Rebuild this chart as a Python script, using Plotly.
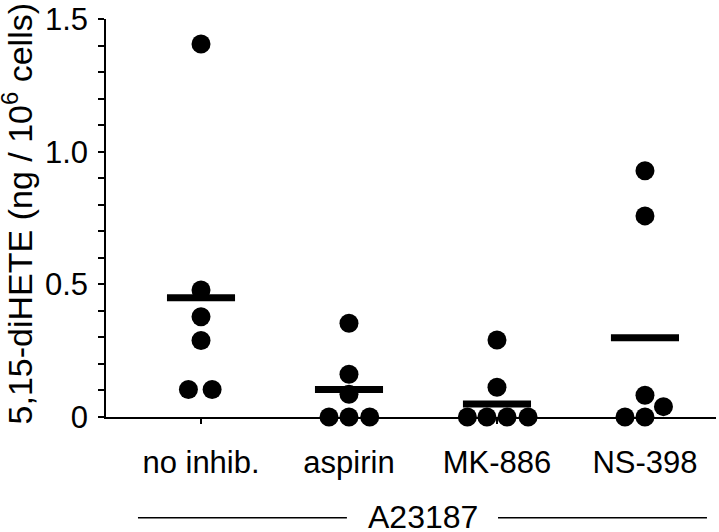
import plotly.graph_objects as go

# ---- data ----
categories = ["no inhib.", "aspirin", "MK-886", "NS-398"]
no_inhib = [1.406, 0.479, 0.378, 0.288, 0.104, 0.104]
aspirin = [0.353, 0.161, 0.086, 0.0, 0.0, 0.0]
mk886 = [0.29, 0.112, 0.0, 0.0, 0.0, 0.0]
ns398 = [0.928, 0.758, 0.082, 0.039, 0.0, 0.0]
means = [0.449, 0.104, 0.049, 0.299]
group_label = "A23187"
y_tickvals = [0, 0.5, 1.0, 1.5]
y_ticktext = ["0", "0.5", "1.0", "1.5"]

# horizontal spread of overlapping points (category units)
jitter = [
    [0, 0, 0, 0, -0.085, 0.075],
    [0, 0, 0, -0.135, 0, 0.14],
    [0, 0, -0.2, -0.068, 0.068, 0.21],
    [0, 0, 0, 0.125, -0.135, 0],
]
series = [no_inhib, aspirin, mk886, ns398]

FONT = "Liberation Sans, Arial, Helvetica, sans-serif"
fig = go.Figure()

for i, (vals, jit) in enumerate(zip(series, jitter)):
    fig.add_trace(go.Scatter(
        x=[i + j for j in jit], y=vals, mode="markers",
        marker=dict(size=19, color="black", line=dict(width=0)),
        cliponaxis=False, showlegend=False, hoverinfo="y"))

mean_half = 0.23
for i, m in enumerate(means):
    fig.add_trace(go.Scatter(
        x=[i - mean_half, i + mean_half], y=[m, m], mode="lines",
        line=dict(color="black", width=7), cliponaxis=False,
        showlegend=False, hoverinfo="y"))

fig.update_layout(
    width=719, height=532,
    margin=dict(l=106, r=3, t=19, b=115),
    paper_bgcolor="white", plot_bgcolor="white",
    font=dict(family=FONT, color="black"),
    xaxis=dict(
        range=[-0.642, 3.48], tickvals=list(range(len(categories))),
        ticktext=categories, ticks="outside", ticklen=5, tickwidth=1.5,
        tickcolor="black", showline=True, linecolor="black", linewidth=1.5,
        showgrid=False, zeroline=False, tickfont=dict(size=31, family=FONT),
        ticklabelstandoff=12, automargin=False,
    ),
    yaxis=dict(
        range=[0, 1.5], tickvals=y_tickvals, ticktext=y_ticktext,
        ticks="outside", ticklen=6, tickwidth=1.5, tickcolor="black",
        minor=dict(dtick=0.1, ticks="outside", ticklen=6, tickwidth=1.5,
                   tickcolor="black", showgrid=False),
        showline=True, linecolor="black", linewidth=1.5,
        showgrid=False, zeroline=False, tickfont=dict(size=31, family=FONT),
        ticklabelstandoff=4, automargin=False,
    ),
)

# y-axis title
fig.add_annotation(
    text="5,15-diHETE (ng / 10<sup>6</sup> cells)", textangle=-90,
    xref="paper", yref="paper", x=0, y=0.509, xshift=-89,
    xanchor="center", yanchor="middle", showarrow=False,
    font=dict(size=34, family=FONT, color="black"))

# group label with bracket lines
n = len(categories)
mid = (n - 1) / 2
fig.add_annotation(
    text=group_label, xref="x", yref="paper", x=mid, y=-0.25,
    xanchor="center", yanchor="middle", showarrow=False,
    font=dict(size=32, family=FONT, color="black"))
for x0, x1 in [(-0.426, mid - 0.514), (mid + 0.507, n - 1 + 0.419)]:
    fig.add_shape(type="line", xref="x", yref="paper", x0=x0, x1=x1,
                  y0=-0.253, y1=-0.253, line=dict(color="black", width=1.5))

fig.write_html(
    "out.html",
    config={"displayModeBar": False},
    post_script="document.body.style.margin='0px';"
                "document.body.style.overflow='hidden';",
)
